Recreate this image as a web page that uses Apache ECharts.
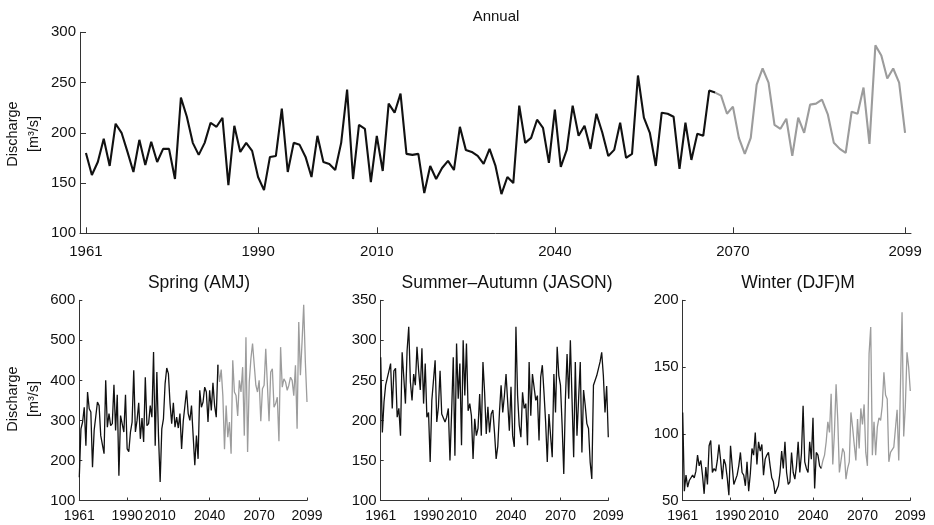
<!DOCTYPE html>
<html><head><meta charset="utf-8">
<script src="https://cdn.jsdelivr.net/npm/echarts@6/dist/echarts.min.js"></script>
<style>html,body{margin:0;padding:0;background:#fff}#c{width:934px;height:525px}</style>
</head><body><div id="c"></div>
<script>
const firstYear = 1961;
const tickYears = [1961, 1990, 2010, 2040, 2070, 2099];
const panelTitles = ['Annual', 'Spring (AMJ)', 'Summer\u2013Autumn (JASON)', 'Winter (DJF)M'];
const axisNameLines = ['Discharge', '[m\u00B3/s]'];

const annualValues = [180,158,171,194,167,209,200,181,161,193,168,191,171,184,184,154,235,216,190,178,190,210,206,215,148,207,181,190,182,156,143,176,177,224,161,190,188,176,156,197,171,169,163,190,243,154,208,204,151,197,162,229,220,239,179,178,179,140,167,154,165,172,163,206,183,181,177,169,184,167,139,156,150,227,190,195,213,205,170,223,166,183,227,197,207,184,219,200,177,183,210,175,179,257,215,200,167,220,219,216,164,210,173,199,197,242,240,237,219,226,195,179,195,248,264,250,208,204,214,177,215,200,228,229,233,218,190,184,180,221,219,245,189,287,277,254,264,250,200];
const annualLastObserved = 2067;

const springValues = [158,279,296,333,237,371,329,321,183,275,279,346,337,262,262,217,400,283,317,287,292,389,275,364,162,312,312,271,364,229,222,271,296,425,271,300,344,254,306,246,408,287,292,337,308,471,237,421,262,146,279,304,392,431,417,342,292,344,283,308,281,317,229,298,294,375,317,300,337,262,188,262,204,375,333,346,383,371,296,375,325,394,337,308,439,396,427,362,228,337,258,296,217,450,371,362,311,400,371,433,262,508,221,396,454,492,488,388,371,400,298,379,388,479,475,298,421,429,333,342,358,248,483,383,404,396,375,388,408,400,362,438,279,546,413,496,589,446,346];
const springLastObserved = 2045;

const summerValues = [279,185,223,244,246,262,271,215,262,265,204,215,181,285,254,221,287,317,248,225,258,244,292,262,238,290,221,271,204,210,148,225,224,275,198,217,262,208,208,198,204,215,150,210,279,156,296,227,271,169,300,231,296,212,221,206,152,202,181,190,233,181,273,235,183,217,185,208,213,185,152,168,210,244,210,231,258,223,187,242,181,167,317,231,194,179,235,215,221,169,273,206,258,260,225,231,175,254,269,235,198,148,208,210,154,258,210,292,256,244,194,133,227,283,227,300,227,154,273,181,227,273,160,238,219,196,190,148,127,244,246,256,256,273,285,256,210,243,179];
const summerLastObserved = 2099;

const winterValues = [116,57,69,60,65,66,69,67,72,84,76,80,69,55,75,62,91,95,71,74,72,80,92,80,66,81,77,67,54,91,76,62,61,69,76,86,71,69,61,79,57,70,89,84,101,77,94,87,92,69,81,84,86,76,67,64,55,54,61,71,87,74,94,71,62,64,86,71,66,76,94,71,85,121,79,74,71,94,81,112,59,86,84,76,74,80,84,94,109,101,130,77,101,137,111,71,72,89,86,66,74,79,116,105,92,80,111,89,119,107,122,86,76,160,180,84,109,84,105,112,110,121,146,129,126,79,86,86,90,104,118,80,134,191,98,121,161,150,132];
const winterLastObserved = 2045;

const FONT = "'Liberation Sans', Arial, Helvetica, sans-serif";
const OBS = '#111111', PROJ = '#9c9c9c';

function split(values, lastObs) {
  const obs = [], proj = [];
  values.forEach((v, i) => {
    const yr = firstYear + i;
    if (yr <= lastObs) obs.push([yr, v]);
    if (yr >= lastObs) proj.push([yr, v]);
  });
  return [obs, proj];
}

const panels = [
  {vals: annualValues, last: annualLastObserved, grid: {left: 80, top: 32.3, width: 831, height: 201}, xmin: 1960, xmax: 2100, ymin: 100, ymax: 300, step: 50, lw: 2.1, tick: 6, xfs: 15, xm: 11},
  {vals: springValues, last: springLastObserved, grid: {left: 79.3, top: 300.3, width: 227.7, height: 200.2}, xmin: 1961, xmax: 2099, ymin: 100, ymax: 600, step: 100, lw: 1.3, tick: 3, xfs: 14, xm: 9},
  {vals: summerValues, last: summerLastObserved, grid: {left: 380.7, top: 300.3, width: 227.6, height: 200.2}, xmin: 1961, xmax: 2099, ymin: 100, ymax: 350, step: 50, lw: 1.3, tick: 3, xfs: 14, xm: 9},
  {vals: winterValues, last: winterLastObserved, grid: {left: 682.7, top: 300.3, width: 227.6, height: 200.2}, xmin: 1961, xmax: 2099, ymin: 50, ymax: 200, step: 50, lw: 1.3, tick: 3, xfs: 14, xm: 9}
];

const grids = [], xAxes = [], yAxes = [], series = [];
panels.forEach((p, k) => {
  grids.push(Object.assign({containLabel: false}, p.grid));
  const axisLine = {show: true, lineStyle: {color: '#333', width: 1}};
  xAxes.push({
    type: 'value', gridIndex: k, min: p.xmin, max: p.xmax,
    axisLine: axisLine,
    axisTick: {show: true, inside: true, length: p.tick, customValues: tickYears, lineStyle: {color: '#333'}},
    axisLabel: {customValues: tickYears, fontSize: p.xfs, fontFamily: FONT, color: '#111', margin: p.xm, formatter: v => String(v)},
    splitLine: {show: false}
  });
  yAxes.push({
    type: 'value', gridIndex: k, min: p.ymin, max: p.ymax, interval: p.step,
    axisLine: axisLine,
    axisTick: {show: true, inside: true, length: p.tick, lineStyle: {color: '#333'}},
    axisLabel: {fontSize: 15, fontFamily: FONT, color: '#111', margin: 4},
    splitLine: {show: false}
  });
  const [obs, proj] = split(p.vals, p.last);
  series.push({type: 'line', xAxisIndex: k, yAxisIndex: k, data: obs, symbol: 'none', lineStyle: {color: OBS, width: p.lw}, z: 3});
  if (proj.length > 1) series.push({type: 'line', xAxisIndex: k, yAxisIndex: k, data: proj, symbol: 'none', lineStyle: {color: PROJ, width: p.lw}, z: 2});
});

const txt = (s, x, y, size, rot) => ({
  type: 'text', x: x, y: y, rotation: rot || 0,
  style: {text: s, fontSize: size, fontFamily: FONT, fill: '#111', align: 'center', verticalAlign: 'middle'}
});
const graphics = [
  txt(panelTitles[0], 496, 17, 15),
  txt(panelTitles[1], 199, 283, 17.5),
  txt(panelTitles[2], 507, 283, 17.5),
  txt(panelTitles[3], 798, 283, 17.5),
  txt(axisNameLines[0], 13, 134, 14.5, Math.PI / 2),
  txt(axisNameLines[1], 34, 134, 14.5, Math.PI / 2),
  txt(axisNameLines[0], 13, 399, 14.5, Math.PI / 2),
  txt(axisNameLines[1], 34, 399, 14.5, Math.PI / 2)
];

const chart = echarts.init(document.getElementById('c'), null, {renderer: 'canvas'});
chart.setOption({
  animation: false,
  backgroundColor: '#fff',
  grid: grids, xAxis: xAxes, yAxis: yAxes, series: series,
  graphic: graphics
});
</script></body></html>
